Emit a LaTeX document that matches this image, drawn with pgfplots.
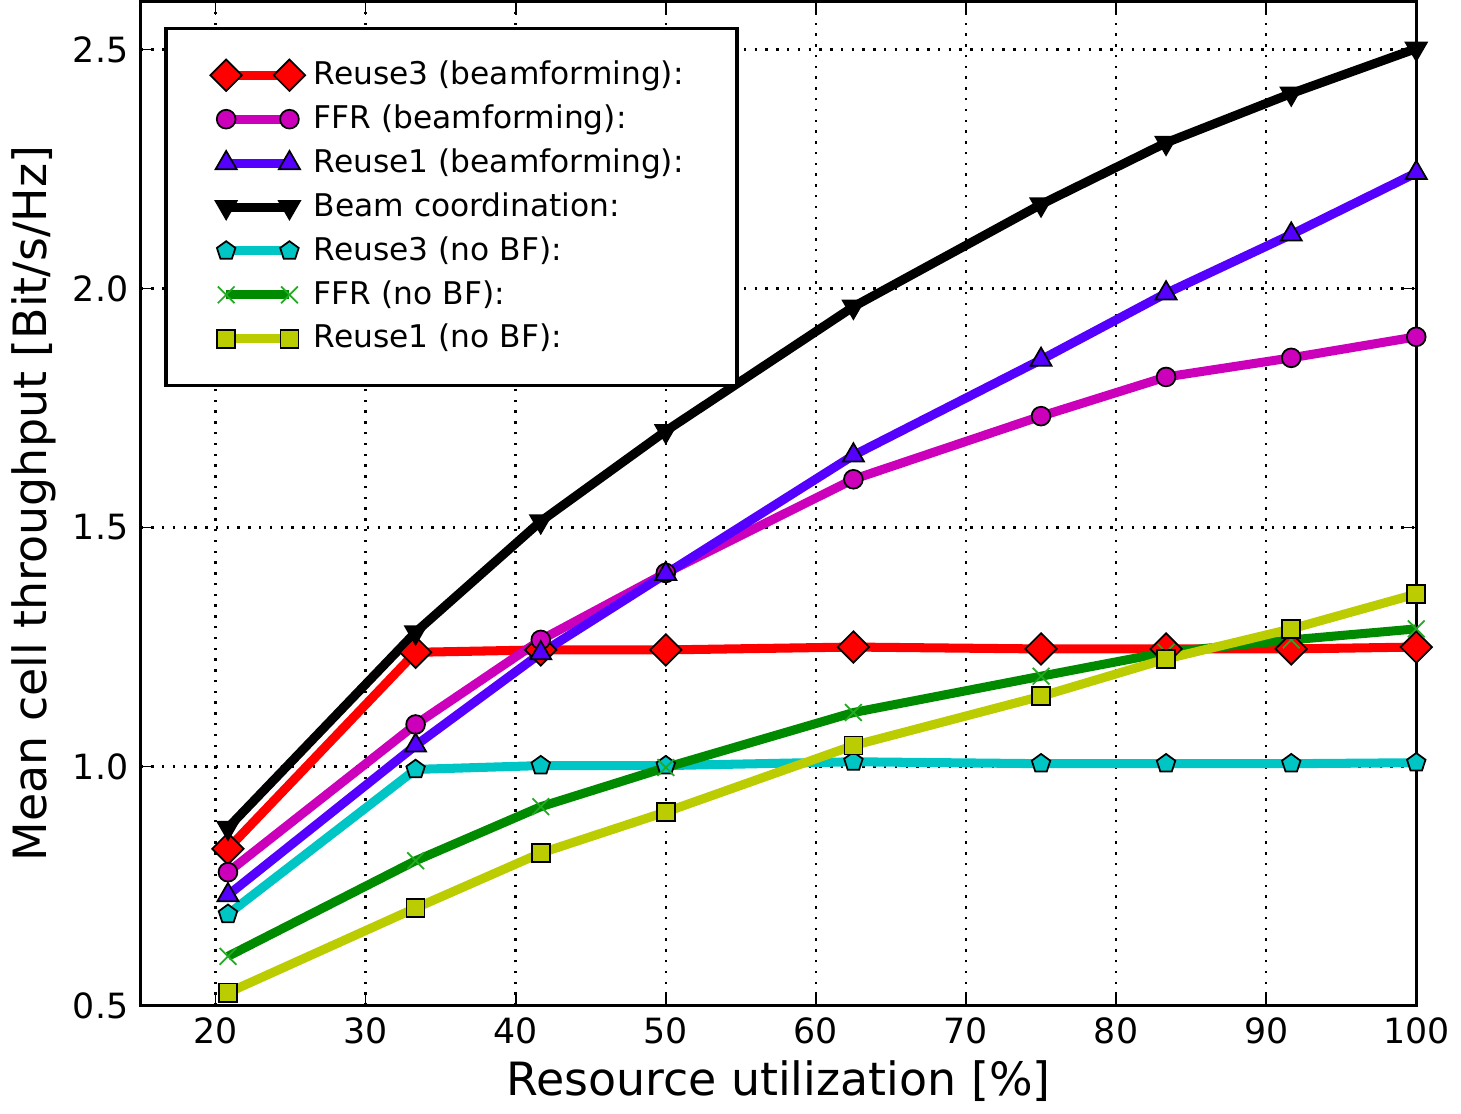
\documentclass[border=0pt]{standalone}
\usepackage{pgfplots}
\pgfplotsset{compat=1.18}
\usepackage{fontspec}
\setmainfont{DejaVu Sans}
\definecolor{cRed}{HTML}{FF0000}
\definecolor{cMag}{HTML}{CC00BB}
\definecolor{cBlue}{HTML}{5500FF}
\definecolor{cCyan}{HTML}{00C5C5}
\definecolor{cGreen}{HTML}{008A00}
\definecolor{cXgreen}{HTML}{22AA22}
\definecolor{cYel}{HTML}{BBCC00}
\tikzset{
    ln/.style={line width=2.6pt},
    mk/.style={solid, draw=black, line width=0.5pt, fill=#1},
}

\begin{document}
\begin{tikzpicture}
\begin{axis}[
    scale only axis,
    width=12.9cm, height=10.15cm,
    xmin=15, xmax=100, ymin=0.5, ymax=2.6,
    xtick={20,30,...,100},
    ytick={0.5,1.0,1.5,2.0,2.5},
    yticklabel style={/pgf/number format/.cd,fixed,fixed zerofill,precision=1},
    /pgf/number format/assume math mode=true,
    tick label style={font=\fontsize{10}{12}\selectfont, black},
    label style={font=\fontsize{13.2}{15}\selectfont},
    xlabel={Resource utilization [\%]},
    ylabel={Mean cell throughput [Bit/s/Hz]},
    xlabel style={yshift=2pt},
    ylabel style={yshift=-2pt},
    axis line style={line width=1pt},
    tick align=inside,
    major tick length=0.13cm,
    tick style={black, line width=0.5pt},
    xmajorgrids, ymajorgrids,
    grid style={black, line width=0.7pt, dash pattern=on 0.7pt off 2.4pt},
    legend cell align=left,
    legend style={
        at={(0.0186,0.975)}, anchor=north west,
        draw=black, line width=1pt,
        font=\fontsize{9}{11}\selectfont,
        inner xsep=0.45cm, inner ysep=0.25cm,
        row sep=0pt,
        nodes={inner xsep=2.5pt, inner ysep=2.15pt},
    },
    legend image code/.code={
        \draw[#1] plot coordinates {(0cm,0cm) (0.64cm,0cm)};
        \path (0.74cm,0cm);
    },
]
\addplot[ln, cRed, mark=square*, mark size=3.2pt, mark options={mk=cRed, rotate=45}] coordinates {
    (20.83,0.828) (33.33,1.239) (41.67,1.244) (50,1.244) (62.5,1.250)
    (75,1.246) (83.33,1.246) (91.67,1.246) (100,1.250)
};
\addlegendentry{Reuse3 (beamforming):}
\addplot[ln, cMag, mark=*, mark size=2.7pt, mark options={mk=cMag}] coordinates {
    (20.83,0.779) (33.33,1.088) (41.67,1.265) (50,1.405) (62.5,1.601)
    (75,1.733) (83.33,1.815) (91.67,1.855) (100,1.899)
};
\addlegendentry{FFR (beamforming):}
\addplot[ln, cBlue, mark=triangle*, mark size=3.5pt, mark options={mk=cBlue}] coordinates {
    (20.83,0.731) (33.33,1.044) (41.67,1.237) (50,1.403) (62.5,1.651)
    (75,1.851) (83.33,1.990) (91.67,2.113) (100,2.242)
};
\addlegendentry{Reuse1 (beamforming):}
\addplot[ln, black, mark=triangle*, mark size=3.5pt, mark options={mk=black, rotate=180}] coordinates {
    (20.83,0.872) (33.33,1.281) (41.67,1.513) (50,1.702) (62.5,1.962)
    (75,2.176) (83.33,2.305) (91.67,2.408) (100,2.502)
};
\addlegendentry{Beam coordination:}
\addplot[ln, cCyan, mark=pentagon*, mark size=2.8pt, mark options={mk=cCyan}] coordinates {
    (20.83,0.691) (33.33,0.994) (41.67,1.002) (50,1.002) (62.5,1.010)
    (75,1.006) (83.33,1.006) (91.67,1.006) (100,1.008)
};
\addlegendentry{Reuse3 (no BF):}
\addplot[ln, cGreen, mark=x, mark size=3.4pt, mark options={solid, draw=cXgreen, line width=0.5pt}] coordinates {
    (20.83,0.603) (33.33,0.803) (41.67,0.916) (50,0.998) (62.5,1.113)
    (75,1.189) (83.33,1.239) (91.67,1.265) (100,1.288)
};
\addlegendentry{FFR (no BF):}
\addplot[ln, cYel, mark=square*, mark size=2.6pt, mark options={mk=cYel}] coordinates {
    (20.83,0.527) (33.33,0.704) (41.67,0.819) (50,0.905) (62.5,1.044)
    (75,1.147) (83.33,1.225) (91.67,1.288) (100,1.361)
};
\addlegendentry{Reuse1 (no BF):}
\end{axis}
\end{tikzpicture}
\end{document}
